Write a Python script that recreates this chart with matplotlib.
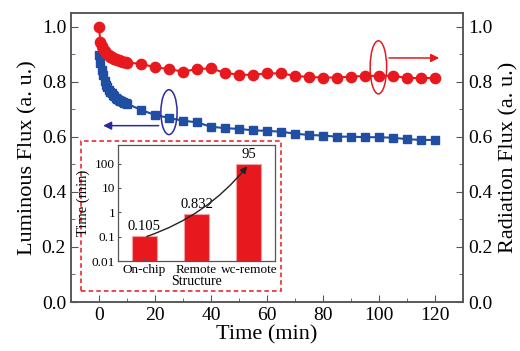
import matplotlib
matplotlib.use("Agg")
import matplotlib.pyplot as plt
from matplotlib.patches import Ellipse, Rectangle
from matplotlib.ticker import MultipleLocator, FixedLocator, NullLocator

plt.rcParams['font.family'] = ['Liberation Serif', 'DejaVu Serif']
plt.rcParams['mathtext.fontset'] = 'stix'

# Luminous flux (left axis, blue squares)
t_lum = [0, 0.5, 1, 1.5, 2, 2.5, 3, 3.5, 4, 4.5, 5, 5.5, 6, 6.5, 7, 7.5, 8, 8.5, 9, 9.5, 10,
         15, 20, 25, 30, 35, 40, 45, 50, 55, 60, 65, 70, 75, 80, 85, 90, 95, 100, 105, 110, 115, 120]
lum_flux = [0.897, 0.870, 0.845, 0.825, 0.805, 0.790, 0.780, 0.770, 0.765, 0.760, 0.752, 0.747,
            0.742, 0.738, 0.735, 0.732, 0.729, 0.727, 0.725, 0.723, 0.721,
            0.698, 0.680, 0.669, 0.659, 0.653, 0.637, 0.632, 0.629, 0.624, 0.622, 0.619, 0.612,
            0.607, 0.605, 0.601, 0.601, 0.599, 0.599, 0.597, 0.592, 0.589, 0.589]

# Radiation flux (right axis, red circles)
t_rad = [0, 0.5, 1, 1.5, 2, 2.5, 3, 3.5, 4, 4.5, 5, 5.5, 6, 6.5, 7, 7.5, 8, 8.5, 9, 9.5, 10,
         15, 20, 25, 30, 35, 40, 45, 50, 55, 60, 65, 70, 75, 80, 85, 90, 95, 100, 105, 110, 115, 120]
rad_flux = [1.000, 0.945, 0.930, 0.920, 0.912, 0.906, 0.900, 0.896, 0.892, 0.889, 0.886, 0.884,
            0.882, 0.880, 0.878, 0.876, 0.875, 0.873, 0.872, 0.871, 0.870,
            0.866, 0.853, 0.847, 0.837, 0.847, 0.849, 0.833, 0.826, 0.826, 0.831, 0.831, 0.822,
            0.818, 0.816, 0.816, 0.819, 0.822, 0.822, 0.822, 0.814, 0.814, 0.814]

# Inset: time per structure
structures = ["On-chip", "Remote", "wc-remote"]
struct_time = [0.105, 0.832, 95]
struct_labels = ["0.105", "0.832", "95"]

RED = "#e8191e"
BLUE = "#1f4ea3"
SPINE = "#555555"

fig = plt.figure(figsize=(5.2, 3.51), dpi=100)
ax = fig.add_axes([0.1365, 0.1396, 0.7538, 0.823])
ax2 = ax.twinx()

ax.plot(t_lum, lum_flux, color=BLUE, marker='s', markersize=6.3, linewidth=1.5, zorder=3)
ax2.plot(t_rad, rad_flux, color=RED, marker='o', markersize=7.4, linewidth=1.5, zorder=3)

for a in (ax, ax2):
    a.set_xlim(-10, 130)
    a.set_ylim(0, 1.05)
    a.yaxis.set_major_locator(MultipleLocator(0.2))
    a.yaxis.set_minor_locator(MultipleLocator(0.1))
    for s in a.spines.values():
        s.set_color(SPINE)
        s.set_linewidth(1.1)

ax.xaxis.set_major_locator(MultipleLocator(20))
ax.xaxis.set_minor_locator(MultipleLocator(10))
ax.tick_params(axis='both', which='both', direction='in', top=False, labelsize=14, colors='black')
ax.tick_params(which='major', length=5, color=SPINE)
ax.tick_params(which='minor', length=3, color=SPINE)
ax2.tick_params(axis='y', which='both', direction='in', labelsize=14)
ax2.tick_params(which='major', length=5, color=SPINE)
ax2.tick_params(which='minor', length=3, color=SPINE)
ax.yaxis.set_major_formatter(lambda v, p: f"{v:.1f}")
ax2.yaxis.set_major_formatter(lambda v, p: f"{v:.1f}")

ax.set_xlabel("Time (min)", fontsize=16, labelpad=1)
ax.set_ylabel("Luminous Flux (a. u.)", fontsize=16, labelpad=3)
ax2.set_ylabel("Radiation Flux (a. u.)", fontsize=16, labelpad=5)

# ellipses and arrows pointing to each axis
ax.add_patch(Ellipse((25, 0.69), 5.8, 0.163, fill=False, edgecolor="#2a2aa0", linewidth=1.1, zorder=4))
ax.annotate("", xy=(0.5, 0.641), xytext=(22.3, 0.641),
            arrowprops=dict(arrowstyle='-|>', color="#2a2aa0", lw=1.1, mutation_scale=12))
ax2.add_patch(Ellipse((99.8, 0.853), 5.9, 0.193, fill=False, edgecolor=RED, linewidth=1.1, zorder=4))
ax2.annotate("", xy=(122.5, 0.887), xytext=(102.6, 0.887),
             arrowprops=dict(arrowstyle='-|>', color=RED, lw=1.1, mutation_scale=12))

# dashed frame around the inset
ax.add_patch(Rectangle((0.0255, 0.039), 0.51, 0.518, transform=ax.transAxes, fill=False,
                       edgecolor=RED, linestyle=(0, (3, 2)), linewidth=1.1, zorder=5))

# inset bar chart
ins = fig.add_axes([0.227, 0.256, 0.302, 0.330])
ins.bar(range(len(structures)), struct_time, width=0.48, color=RED, edgecolor="#f4a0a0", linewidth=0.8)
ins.set_yscale('log')
ins.set_ylim(0.01, 560)
ins.set_xlim(-0.5, 2.5)
ins.yaxis.set_major_locator(FixedLocator([0.01, 0.1, 1, 10, 100]))
ins.yaxis.set_minor_locator(NullLocator())
ins.set_yticklabels(["0.01", "0.1", "1", "10", "100"])
ins.set_xticks(range(len(structures)))
ins.set_xticklabels(structures)
ins.tick_params(direction='in', length=2, labelsize=9.5, pad=2, color=SPINE)
for s in ins.spines.values():
    s.set_color(SPINE)
    s.set_linewidth(0.9)
ins.set_xlabel("Structure", fontsize=10, labelpad=-1)
ins.set_ylabel("Time (min)", fontsize=10.5, labelpad=1)
for i, (v, lab) in enumerate(zip(struct_time, struct_labels)):
    ins.text(i, v * 1.35, lab, ha='center', va='bottom', fontsize=10.5)
ins.annotate("", xy=(2.0, struct_time[2]), xytext=(0.0, struct_time[0] * 0.9),
             arrowprops=dict(arrowstyle='-|>', color='#222222', lw=1.0, mutation_scale=10,
                             connectionstyle="arc3,rad=0.15"))

fig.savefig("out.png", dpi=100)
